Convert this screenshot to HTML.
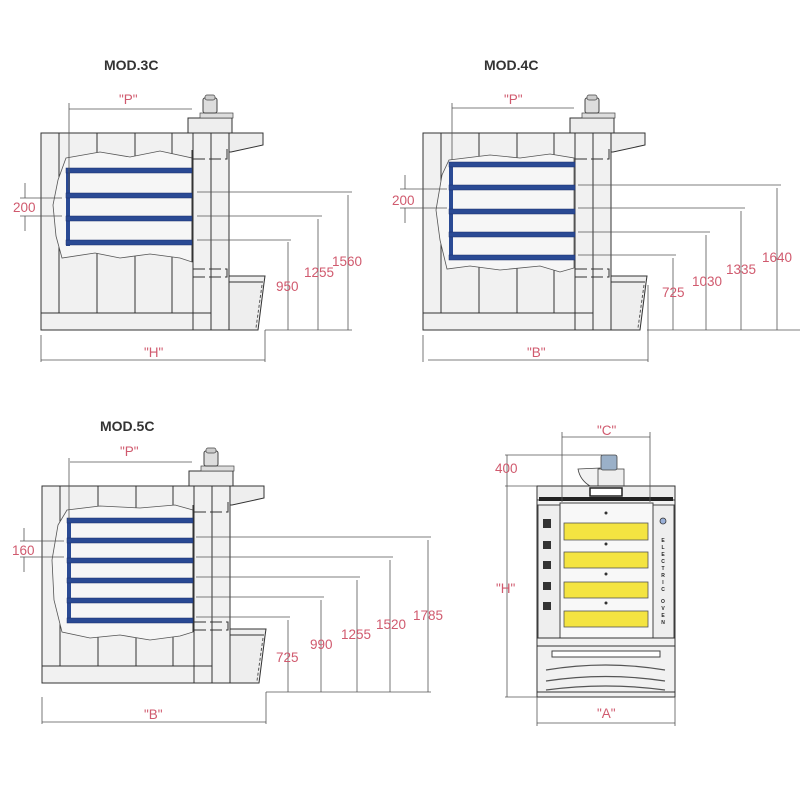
<!DOCTYPE html>
<html><head><meta charset="utf-8"><style>
html,body{margin:0;padding:0;background:#fff;}
svg{display:block}
.t{font-family:"Liberation Sans",sans-serif;font-size:14px;font-weight:bold;fill:#333}
.r{font-family:"Liberation Sans",sans-serif;font-size:13.5px;fill:#d05a6e}
.l{stroke:#333;stroke-width:1;fill:none}
.d{stroke:#555;stroke-width:0.8;fill:none}
</style></head><body>
<svg width="800" height="800" viewBox="0 0 800 800" xmlns="http://www.w3.org/2000/svg">
<defs>
<g id="body">
  <rect x="41" y="133" width="152" height="197" fill="#f1f1f1" stroke="#333"/>
  <rect x="193" y="133" width="36" height="197" fill="#f1f1f1" stroke="#333"/>
  <line x1="211" y1="133" x2="211" y2="330" class="l"/>
  <line x1="41" y1="313" x2="211" y2="313" class="l"/>
  <line x1="59" y1="133" x2="59" y2="313" class="l"/>
  <line x1="97" y1="133" x2="97" y2="313" class="l"/>
  <line x1="135" y1="133" x2="135" y2="313" class="l"/>
  <line x1="172" y1="133" x2="172" y2="313" class="l"/>
  <rect x="188" y="118" width="44" height="15" fill="#eee" stroke="#333"/>
  <rect x="200" y="113" width="33" height="5" fill="#ddd" stroke="#444" stroke-width="0.7"/>
  <rect x="203" y="98" width="14" height="15" rx="2" fill="#ddd" stroke="#444"/>
  <rect x="205" y="95" width="10" height="5" rx="2" fill="#ccc" stroke="#444" stroke-width="0.7"/>
  <polygon points="229,133 263,133 263,145 231,152 229,152" fill="#eee" stroke="#333"/>
  <polygon points="229,276 265,276 264,283 258,330 229,330" fill="#eee" stroke="#333"/>
  <line x1="229" y1="282" x2="263" y2="282" class="l"/>
  <line x1="262" y1="285" x2="256" y2="328" stroke="#555" stroke-dasharray="3,2"/>
  <rect x="193" y="269" width="34" height="8" fill="none" stroke="#333" stroke-dasharray="12,4"/>
  <path d="M193,159 H227 V145" fill="none" stroke="#333" stroke-dasharray="12,4"/>
</g>
</defs>

<text x="104" y="70" class="t">MOD.3C</text>
<text x="484" y="70" class="t">MOD.4C</text>
<text x="100" y="431" class="t">MOD.5C</text>

<!-- MOD 3C -->
<use href="#body"/>
<path d="M66,158 L100,152 L130,157 L160,151 L192,158 L192,262 L180,258 L150,254 L120,258 L95,253 L62,258 L56,236 L53,205 L58,180 Z" fill="#f6f6f6" stroke="#555" stroke-width="0.8"/>
<line x1="192" y1="150" x2="192" y2="262" class="l"/>
<rect x="66" y="168" width="4" height="78" fill="#2a4a94"/>
<g fill="#2a4a94" stroke="#1a2f6a" stroke-width="0.5">
<rect x="66" y="168" width="126" height="5"/><rect x="66" y="193" width="126" height="5"/><rect x="66" y="216" width="126" height="5"/><rect x="66" y="240" width="126" height="5"/>
</g>
<g class="d">
<line x1="69" y1="103" x2="69" y2="190"/><line x1="69" y1="109" x2="192" y2="109"/>
<line x1="197" y1="192" x2="352" y2="192"/><line x1="197" y1="216" x2="322" y2="216"/><line x1="197" y1="240" x2="291" y2="240"/>
<line x1="348" y1="195" x2="348" y2="330"/><line x1="318" y1="219" x2="318" y2="330"/><line x1="288" y1="242" x2="288" y2="330"/>
<line x1="265" y1="330" x2="352" y2="330"/>
<line x1="41" y1="335" x2="41" y2="362"/><line x1="265" y1="330" x2="265" y2="362"/><line x1="41" y1="360" x2="265" y2="360"/>
<line x1="20" y1="198" x2="62" y2="198"/><line x1="20" y1="216" x2="62" y2="216"/><line x1="25" y1="183" x2="25" y2="198"/><line x1="25" y1="216" x2="25" y2="231"/>
</g>
<text x="119" y="104" class="r">"P"</text>
<text x="13" y="212" class="r">200</text>
<text x="332" y="266" class="r">1560</text>
<text x="304" y="277" class="r">1255</text>
<text x="276" y="291" class="r">950</text>
<text x="144" y="357" class="r">"H"</text>

<!-- MOD 4C -->
<use href="#body" transform="translate(382,0)"/>
<path d="M449,160 L490,155 L520,158 L550,154 L574,158 L574,268 L560,272 L540,266 L500,270 L470,266 L447,269 L440,240 L436,210 L442,175 Z" fill="#f6f6f6" stroke="#555" stroke-width="0.8"/>
<line x1="575" y1="150" x2="575" y2="268" class="l"/>
<rect x="449" y="162" width="4" height="98" fill="#2a4a94"/>
<g fill="#2a4a94" stroke="#1a2f6a" stroke-width="0.5">
<rect x="449" y="162" width="126" height="5"/><rect x="449" y="185" width="126" height="5"/><rect x="449" y="209" width="126" height="5"/><rect x="449" y="232" width="126" height="5"/><rect x="449" y="255" width="126" height="5"/>
</g>
<g class="d">
<line x1="452" y1="103" x2="452" y2="160"/><line x1="452" y1="108" x2="574" y2="108"/>
<line x1="578" y1="185" x2="781" y2="185"/><line x1="578" y1="208" x2="745" y2="208"/><line x1="578" y1="232" x2="710" y2="232"/><line x1="578" y1="255" x2="676" y2="255"/>
<line x1="777" y1="188" x2="777" y2="330"/><line x1="741" y1="211" x2="741" y2="330"/><line x1="706" y1="235" x2="706" y2="330"/><line x1="673" y1="258" x2="673" y2="330"/>
<line x1="647" y1="330" x2="800" y2="330"/>
<line x1="423" y1="335" x2="423" y2="362"/><line x1="648" y1="285" x2="648" y2="362"/><line x1="428" y1="360" x2="648" y2="360"/>
<line x1="400" y1="189" x2="447" y2="189"/><line x1="400" y1="208" x2="447" y2="208"/><line x1="405" y1="175" x2="405" y2="189"/><line x1="405" y1="208" x2="405" y2="223"/>
</g>
<text x="504" y="104" class="r">"P"</text>
<text x="392" y="205" class="r">200</text>
<text x="762" y="262" class="r">1640</text>
<text x="726" y="274" class="r">1335</text>
<text x="692" y="286" class="r">1030</text>
<text x="662" y="297" class="r">725</text>
<text x="527" y="357" class="r">"B"</text>

<!-- MOD 5C -->
<use href="#body" transform="translate(1,353)"/>
<path d="M67,510 L100,506 L140,508 L175,505 L193,510 L193,632 L180,636 L150,640 L120,635 L90,638 L62,632 L54,600 L52,560 L58,525 Z" fill="#f6f6f6" stroke="#555" stroke-width="0.8"/>
<line x1="193" y1="505" x2="193" y2="632" class="l"/>
<rect x="67" y="518" width="4" height="105" fill="#2a4a94"/>
<g fill="#2a4a94" stroke="#1a2f6a" stroke-width="0.5">
<rect x="67" y="518" width="126" height="5"/><rect x="67" y="538" width="126" height="5"/><rect x="67" y="558" width="126" height="5"/><rect x="67" y="578" width="126" height="5"/><rect x="67" y="598" width="126" height="5"/><rect x="67" y="618" width="126" height="5"/>
</g>
<g class="d">
<line x1="69" y1="458" x2="69" y2="520"/><line x1="70" y1="462" x2="192" y2="462"/>
<line x1="196" y1="537" x2="431" y2="537"/><line x1="196" y1="557" x2="393" y2="557"/><line x1="196" y1="577" x2="360" y2="577"/><line x1="196" y1="597" x2="324" y2="597"/><line x1="196" y1="617" x2="290" y2="617"/>
<line x1="428" y1="540" x2="428" y2="692"/><line x1="390" y1="560" x2="390" y2="692"/><line x1="357" y1="580" x2="357" y2="692"/><line x1="321" y1="600" x2="321" y2="692"/><line x1="288" y1="620" x2="288" y2="692"/>
<line x1="266" y1="692" x2="431" y2="692"/>
<line x1="42" y1="697" x2="42" y2="724"/><line x1="266" y1="692" x2="266" y2="724"/><line x1="42" y1="722" x2="266" y2="722"/>
<line x1="20" y1="541" x2="64" y2="541"/><line x1="20" y1="557" x2="64" y2="557"/><line x1="24" y1="528" x2="24" y2="541"/><line x1="24" y1="557" x2="24" y2="572"/>
</g>
<text x="120" y="456" class="r">"P"</text>
<text x="12" y="555" class="r">160</text>
<text x="413" y="620" class="r">1785</text>
<text x="376" y="629" class="r">1520</text>
<text x="341" y="639" class="r">1255</text>
<text x="310" y="649" class="r">990</text>
<text x="276" y="662" class="r">725</text>
<text x="144" y="719" class="r">"B"</text>

<!-- FRONT -->
<g>
<path d="M578,469 L600,468 L600,486 L590,486 Q580,480 578,469 Z" fill="#f2f2f2" stroke="#444" stroke-width="0.8"/>
<rect x="598" y="469" width="26" height="17" fill="#eee" stroke="#444" stroke-width="0.8"/>
<rect x="601" y="455" width="16" height="15" rx="2" fill="#9ab0c8" stroke="#444" stroke-width="0.8"/>
<rect x="537" y="486" width="138" height="211" fill="#f3f3f3" stroke="#333"/>
<rect x="537" y="486" width="138" height="14" fill="#ededed" stroke="#333"/>
<rect x="590" y="488" width="32" height="8" fill="#fff" stroke="#222" stroke-width="1.5"/>
<rect x="539" y="497" width="134" height="4" fill="#222"/>
<rect x="538" y="505" width="22" height="135" fill="#eee" stroke="#444"/>
<rect x="653" y="505" width="21" height="135" fill="#eee" stroke="#444"/>
<rect x="560" y="503" width="93" height="137" fill="#f8f8f8" stroke="#444"/>
<g fill="#f4e441" stroke="#555" stroke-width="0.8">
<rect x="564" y="523" width="84" height="17"/><rect x="564" y="552" width="84" height="16"/><rect x="564" y="582" width="84" height="16"/><rect x="564" y="611" width="84" height="16"/>
</g>
<g fill="#333">
<circle cx="606" cy="513" r="1.5"/><circle cx="606" cy="544" r="1.5"/><circle cx="606" cy="574" r="1.5"/><circle cx="606" cy="603" r="1.5"/>
<rect x="543" y="519" width="8" height="9"/><rect x="543" y="541" width="8" height="8"/><rect x="543" y="561" width="8" height="8"/><rect x="543" y="582" width="8" height="8"/><rect x="543" y="602" width="8" height="8"/>
</g>
<circle cx="663" cy="521" r="3" fill="#9ab0d8" stroke="#333" stroke-width="0.8"/>
<text x="663" y="536" font-family="Liberation Sans,sans-serif" font-size="5" font-weight="bold" fill="#222" text-anchor="middle">
<tspan x="663" dy="6">E</tspan><tspan x="663" dy="7">L</tspan><tspan x="663" dy="7">E</tspan><tspan x="663" dy="7">C</tspan><tspan x="663" dy="7">T</tspan><tspan x="663" dy="7">R</tspan><tspan x="663" dy="7">I</tspan><tspan x="663" dy="7">C</tspan><tspan x="663" dy="12">O</tspan><tspan x="663" dy="7">V</tspan><tspan x="663" dy="7">E</tspan><tspan x="663" dy="7">N</tspan></text>
<rect x="537" y="638" width="138" height="59" fill="#f1f1f1" stroke="#333"/>
<line x1="537" y1="646" x2="675" y2="646" class="l"/>
<line x1="537" y1="692" x2="675" y2="692" class="l"/>
<rect x="552" y="651" width="108" height="6" fill="#fff" stroke="#444"/>
<path d="M546,670 Q606,660 665,670 M546,681 Q606,672 665,681 M546,690 Q606,682 665,690" stroke="#555" fill="none" stroke-width="1.2"/>
</g>
<g class="d">
<line x1="562" y1="432" x2="562" y2="502"/><line x1="650" y1="432" x2="650" y2="502"/><line x1="562" y1="437" x2="650" y2="437"/>
<line x1="505" y1="455" x2="602" y2="455"/><line x1="505" y1="486" x2="537" y2="486"/><line x1="507" y1="455" x2="507" y2="697"/>
<line x1="505" y1="697" x2="537" y2="697"/>
<line x1="537" y1="697" x2="537" y2="726"/><line x1="675" y1="697" x2="675" y2="726"/><line x1="537" y1="723" x2="675" y2="723"/>
</g>
<text x="597" y="435" class="r">"C"</text>
<text x="495" y="473" class="r">400</text>
<text x="496" y="593" class="r">"H"</text>
<text x="597" y="718" class="r">"A"</text>
</svg>
</body></html>
